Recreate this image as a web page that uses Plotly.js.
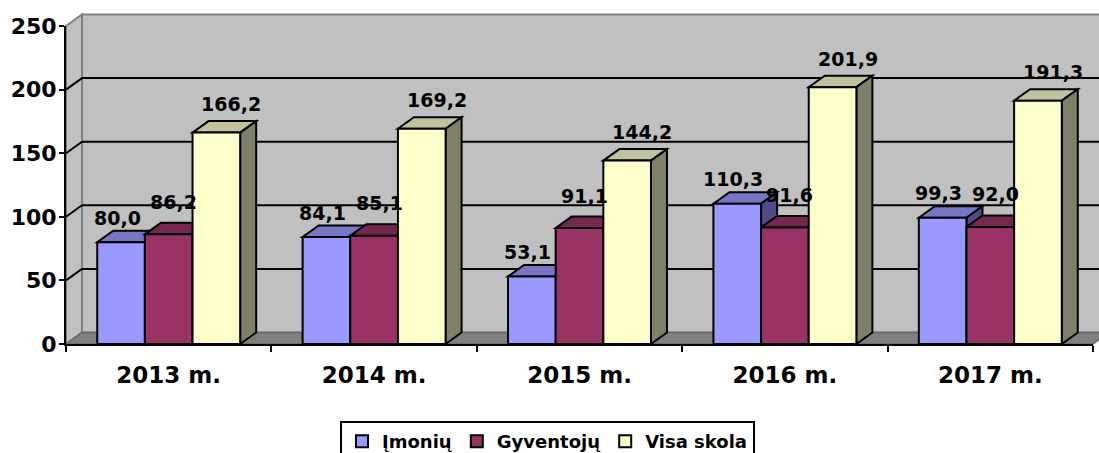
<!DOCTYPE html>
<html>
<head>
<meta charset="utf-8">
<script src="https://cdn.plot.ly/plotly-3.0.1.min.js"></script>
<style>html,body{margin:0;padding:0;background:#fff;}#chart{width:1099px;height:453px;}</style>
</head>
<body>
<div id="chart"></div>
<script>
// ---- data ----
const categories = ['2013 m.', '2014 m.', '2015 m.', '2016 m.', '2017 m.'];
const imoniu     = [80.0, 84.1, 53.1, 110.3, 99.3];
const gyventoju  = [86.2, 85.1, 91.1, 91.6, 92.0];
const visaSkola  = [166.2, 169.2, 144.2, 201.9, 191.3];
const seriesNames = ['Įmonių', 'Gyventojų', 'Visa skola'];
const yTickValues = [0, 50, 100, 150, 200, 250];

// ---- style / geometry ----
const W = 1099, H = 453;
const M = {l: 66, r: 6, t: 26, b: 109};
const plotW = W - M.l - M.r, plotH = H - M.t - M.b;
const yMax = 250;
const nCat = categories.length;
const DEPTH_X = 16, DEPTH_Y = 11.5;           // 3-D depth in pixels
const dxP = DEPTH_X / plotW, dyP = DEPTH_Y / plotH;   // in paper units
const dyU = DEPTH_Y / plotH * yMax;           // in y data units
const BAR_W = 0.232;
const offsets = [-0.348, -0.116, 0.116];
const frontCol = ['#9999FF', '#993366', '#FFFFCC'];
const topCol   = ['#7676C4', '#76274F', '#C2C2A0'];
const sideCol  = ['#4E4E85', '#541C39', '#808068'];
const labelDX  = [-4, 5, 15];   // label nudges per series (px)
const labelGap = [6, 14, 10];   // baseline gap above bar top (px)
const FONT = 'DejaVu Sans';

const series = [imoniu, gyventoju, visaSkola];
const px = xi => (xi + 0.5) / nCat;
const py = v => v / yMax;

const shapes = [];
// back wall
shapes.push({type: 'rect', xref: 'paper', yref: 'paper', layer: 'below',
  x0: dxP, x1: 1 + dxP, y0: dyP, y1: 1 + dyP,
  fillcolor: '#C0C0C0', line: {color: '#808080', width: 2}});
// left wall
shapes.push({type: 'path', xref: 'paper', yref: 'paper', layer: 'below',
  path: `M0,0 L0,1 L${dxP},${1 + dyP} L${dxP},${dyP} Z`,
  fillcolor: '#C0C0C0', line: {color: '#808080', width: 2}});
// floor
shapes.push({type: 'path', xref: 'paper', yref: 'paper', layer: 'below',
  path: `M0,0 L1,0 L${1 + dxP},${dyP} L${dxP},${dyP} Z`,
  fillcolor: '#808080', line: {color: '#666666', width: 1.5}});
// gridlines on back wall and left wall
yTickValues.filter(t => t > 0 && t < yMax).forEach(t => {
  shapes.push({type: 'line', xref: 'paper', yref: 'paper', layer: 'below',
    x0: dxP, x1: 1 + dxP, y0: py(t) + dyP, y1: py(t) + dyP,
    line: {color: '#000', width: 2}});
  shapes.push({type: 'line', xref: 'paper', yref: 'paper', layer: 'below',
    x0: 0, x1: dxP, y0: py(t), y1: py(t) + dyP,
    line: {color: '#000', width: 2}});
});
// bar top and side faces
for (let i = 0; i < nCat; i++) {
  for (let s = 0; s < series.length; s++) {
    const v = series[s][i];
    const XL = px(i + offsets[s]), XR = px(i + offsets[s] + BAR_W), Y = py(v);
    shapes.push({type: 'path', xref: 'paper', yref: 'paper', layer: 'below',
      path: `M${XL},${Y} L${XR},${Y} L${XR + dxP},${Y + dyP} L${XL + dxP},${Y + dyP} Z`,
      fillcolor: topCol[s], line: {color: '#000', width: 2}});
    shapes.push({type: 'path', xref: 'paper', yref: 'paper', layer: 'below',
      path: `M${XR},0 L${XR},${Y} L${XR + dxP},${Y + dyP} L${XR + dxP},${dyP} Z`,
      fillcolor: sideCol[s], line: {color: '#000', width: 2}});
  }
}

// data labels
const annotations = [];
for (let i = 0; i < nCat; i++) {
  for (let s = 0; s < series.length; s++) {
    const v = series[s][i];
    annotations.push({
      x: i + offsets[s] + BAR_W / 2, y: v + dyU, xref: 'x', yref: 'y',
      text: v.toFixed(1).replace('.', ','), showarrow: false,
      xanchor: 'center', yanchor: 'bottom',
      xshift: labelDX[s], yshift: labelGap[s] - 6,
      font: {family: FONT, size: 19, weight: 700, color: '#000'}
    });
  }
}

const traces = series.map((vals, s) => ({
  type: 'bar', name: seriesNames[s], x: categories, y: vals,
  width: BAR_W, offset: offsets[s],
  marker: {color: frontCol[s], line: {color: '#000', width: 2}},
  hoverinfo: 'skip'
}));

const layout = {
  width: W, height: H,
  margin: Object.assign({autoexpand: false, pad: 0}, M),
  paper_bgcolor: '#fff', plot_bgcolor: 'rgba(0,0,0,0)',
  barmode: 'overlay',
  showlegend: true,
  xaxis: {
    type: 'category', range: [-0.5, nCat - 0.5], fixedrange: true,
    showgrid: false, zeroline: false,
    showline: true, linecolor: '#000', linewidth: 2,
    ticks: 'outside', tickson: 'boundaries', ticklen: 6, tickwidth: 2, tickcolor: '#000',
    ticklabelstandoff: 9,
    tickfont: {family: FONT, size: 23, weight: 700, color: '#000'}
  },
  yaxis: {
    range: [0, yMax], fixedrange: true,
    tickmode: 'array', tickvals: yTickValues, ticktext: yTickValues.map(String),
    showgrid: false, zeroline: false,
    showline: true, linecolor: '#000', linewidth: 2,
    ticks: 'outside', ticklen: 5, tickwidth: 2, tickcolor: '#000',
    ticklabelstandoff: -2,
    tickfont: {family: FONT, size: 22, weight: 700, color: '#000'}
  },
  legend: {
    orientation: 'h', x: (547.5 - M.l) / plotW, xanchor: 'center',
    y: (344 - 421) / plotH, yanchor: 'top',
    bgcolor: '#fff', bordercolor: '#000', borderwidth: 2,
    itemwidth: 30, traceorder: 'normal',
    font: {family: FONT, size: 18, weight: 700, color: '#000'}
  },
  shapes: shapes,
  annotations: annotations
};

Plotly.newPlot('chart', traces, layout, {displayModeBar: false, staticPlot: true});
</script>
</body>
</html>
